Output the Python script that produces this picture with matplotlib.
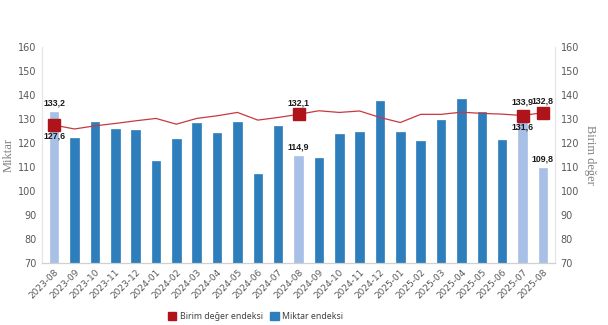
import matplotlib.pyplot as plt
import numpy as np
from matplotlib.patches import Patch

# months on the x axis
months = ['2023-08', '2023-09', '2023-10', '2023-11', '2023-12', '2024-01', '2024-02',
          '2024-03', '2024-04', '2024-05', '2024-06', '2024-07', '2024-08', '2024-09',
          '2024-10', '2024-11', '2024-12', '2025-01', '2025-02', '2025-03', '2025-04',
          '2025-05', '2025-06', '2025-07', '2025-08']

# Miktar endeksi (bars)
miktar = [133.2, 122.1, 129.0, 126.0, 125.5, 112.5, 121.7, 128.6, 124.2, 129.0, 107.2,
          127.3, 114.9, 113.7, 123.7, 124.6, 137.5, 124.6, 121.0, 129.7, 138.5, 132.9,
          121.4, 133.9, 109.8]

# Birim deger endeksi (line)
birim = [127.6, 126.0, 127.3, 128.3, 129.4, 130.4, 128.0, 130.4, 131.5, 132.9, 129.7,
         130.8, 132.1, 133.6, 132.9, 133.5, 130.8, 128.7, 132.1, 132.1, 133.0, 132.5,
         132.2, 131.6, 132.8]

# months that are highlighted (light bars + markers + labels)
highlight = ['2023-08', '2024-08', '2025-07', '2025-08']
# months where the line label sits below the marker
below = ['2023-08', '2025-07']

bar_dark = '#2F7EBC'
bar_light = '#A8C0E6'
line_col = '#C8393F'
marker_col = '#B0141B'
tick_col = '#595959'

x = np.arange(len(months))
hl = [m in highlight for m in months]

fig = plt.figure(figsize=(6.08, 3.25), dpi=100)
ax = fig.add_axes([0.069, 0.19, 0.844, 0.664])
ax2 = ax.twinx()

colors = [bar_light if h else bar_dark for h in hl]
ax.bar(x, miktar, width=0.42, color=colors, edgecolor=colors, linewidth=0.5, zorder=2)

ax2.plot(x, birim, color=line_col, linewidth=0.9, zorder=3)
hx = x[hl]
hy = np.array(birim)[hl]
ax2.plot(hx, hy, linestyle='none', marker='s', markersize=8, color=marker_col, zorder=4)

for a in (ax, ax2):
    a.set_ylim(70, 160)
    a.set_yticks(range(70, 161, 10))
    a.tick_params(axis='y', length=0, labelsize=7, colors=tick_col, pad=4)
    a.spines['top'].set_visible(False)
    a.spines['left'].set_color('#E6E6E6')
    a.spines['right'].set_color('#E6E6E6')
    a.spines['bottom'].set_color('#D0D0D0')
ax.set_xlim(-0.6, len(months) - 0.4)
ax.set_xticks(x)
ax.set_xticklabels(months, rotation=45, ha='right', rotation_mode='anchor', fontsize=6.5, color=tick_col)
ax.tick_params(axis='x', length=0, pad=3)

ax.set_ylabel('Miktar', family='Liberation Serif', fontsize=9, color='#7F7F7F', labelpad=2)
ax2.set_ylabel('Birim değer', family='Liberation Serif', fontsize=9, color='#7F7F7F',
               rotation=270, labelpad=12)

# data labels
lab_kw = dict(fontsize=6.3, fontweight='bold', color='#1A1A1A', ha='center',
              family='Liberation Sans')
def fmt(v):
    return f'{v:.1f}'.replace('.', ',')

for i, m in enumerate(months):
    if not hl[i]:
        continue
    ax.text(i, miktar[i] + 1.6, fmt(miktar[i]), va='bottom', **lab_kw)
    if m in below:
        ax2.text(i, birim[i] - 2.8, fmt(birim[i]), va='top', **lab_kw)
    else:
        ax2.text(i, birim[i] + 2.8, fmt(birim[i]), va='bottom', **lab_kw)

# legend at bottom
handles = [Patch(color=marker_col, label='Birim değer endeksi'),
           Patch(color=bar_dark, label='Miktar endeksi')]
fig.legend(handles=handles, loc='center', bbox_to_anchor=(0.42, 0.025), ncol=2, frameon=False,
           prop={'family': 'Noto Sans', 'size': 6.3}, handlelength=1.0, handleheight=1.0,
           handletextpad=0.4, columnspacing=0.8, labelcolor='#404040')

fig.savefig('out.png', dpi=100)
